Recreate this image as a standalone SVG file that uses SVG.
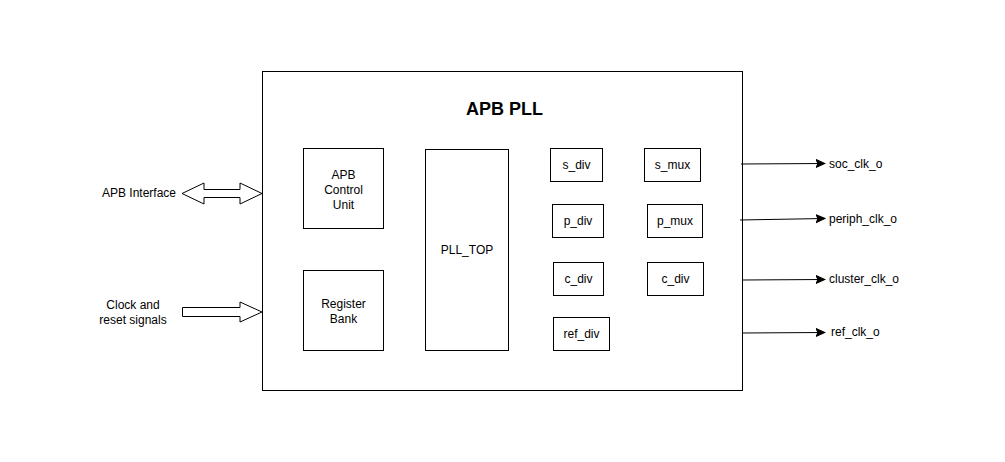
<svg xmlns="http://www.w3.org/2000/svg" width="1005" height="462" viewBox="0 0 1005 462">
<defs>
<style>
.b{fill:#fff;stroke:#000;stroke-width:1}
.t{font-family:"Liberation Sans",Arial,sans-serif;font-size:12px;fill:#000;text-anchor:middle}
.s{text-anchor:start}
.c{stroke:#000;stroke-width:1;fill:none}
.fa{fill:#fff;stroke:#000;stroke-width:1}
</style>
<marker id="ah" markerWidth="10" markerHeight="10" refX="8" refY="5" orient="auto" markerUnits="userSpaceOnUse">
<path d="M0,1 L9,5 L0,9 L2,5 Z" fill="#000" stroke="#000" stroke-width="1"/>
</marker>
</defs>
<rect width="1005" height="462" fill="#fff"/>
<g id="apb_pll">
<rect class="b" x="262.5" y="71.5" width="480" height="319"/>
<text x="504.5" y="115" font-family="Liberation Sans,Arial,sans-serif" font-size="18" font-weight="bold" text-anchor="middle">APB PLL</text>
</g>
<g id="apb_ctrl"><rect class="b" x="303.5" y="148.5" width="80" height="80"/>
<text class="t" x="343.5" y="179">APB</text><text class="t" x="343.5" y="194">Control</text><text class="t" x="343.5" y="209">Unit</text></g>
<g id="reg_bank"><rect class="b" x="303.5" y="270.5" width="80" height="80"/>
<text class="t" x="343.5" y="308">Register</text><text class="t" x="343.5" y="323">Bank</text></g>
<g id="pll_top"><rect class="b" x="425.5" y="149.5" width="83" height="201"/>
<text class="t" x="467" y="254">PLL_TOP</text></g>
<g id="s_div"><rect class="b" x="550.5" y="148.5" width="52" height="33"/><text class="t" x="576.5" y="169">s_div</text></g>
<g id="s_mux"><rect class="b" x="644.5" y="148.5" width="56" height="33"/><text class="t" x="672.5" y="169">s_mux</text></g>
<g id="p_div"><rect class="b" x="552.5" y="204.5" width="51" height="33"/><text class="t" x="578" y="225">p_div</text></g>
<g id="p_mux"><rect class="b" x="647.5" y="204.5" width="55" height="33"/><text class="t" x="675" y="225">p_mux</text></g>
<g id="c_div"><rect class="b" x="553.5" y="262.5" width="50" height="33"/><text class="t" x="578.5" y="283">c_div</text></g>
<g id="c_div2"><rect class="b" x="647.5" y="262.5" width="56" height="33"/><text class="t" x="675.5" y="283">c_div</text></g>
<g id="ref_div"><rect class="b" x="553.5" y="317.5" width="56" height="33"/><text class="t" x="581.5" y="338">ref_div</text></g>
<g id="apb_if"><text class="t" x="139" y="197">APB Interface</text></g>
<g id="clk_rst"><text class="t" x="133" y="309">Clock and</text><text class="t" x="133" y="324">reset signals</text></g>
<g id="soc_clk_o"><text class="t s" x="829" y="168">soc_clk_o</text></g>
<g id="periph_clk_o"><text class="t s" x="829" y="223">periph_clk_o</text></g>
<g id="cluster_clk_o"><text class="t s" x="829" y="283">cluster_clk_o</text></g>
<g id="ref_clk_o"><text class="t s" x="831" y="336">ref_clk_o</text></g>
<g id="connectors">
<path class="fa" d="M182,193.5 L204,183 L204,189.5 L240,189.5 L240,183 L262,193.5 L240,204 L240,197.5 L204,197.5 L204,204 Z"/>
<path class="fa" d="M182.5,307.5 L240,307.5 L240,302 L262,312 L240,322 L240,316.5 L182.5,316.5 Z"/>
<path class="c" d="M741,164 L824,163.5" marker-end="url(#ah)"/>
<path class="c" d="M740,220 L824,218.5" marker-end="url(#ah)"/>
<path class="c" d="M743,280 L824,279.5" marker-end="url(#ah)"/>
<path class="c" d="M743,333 L824,332.5" marker-end="url(#ah)"/>
</g>
</svg>
